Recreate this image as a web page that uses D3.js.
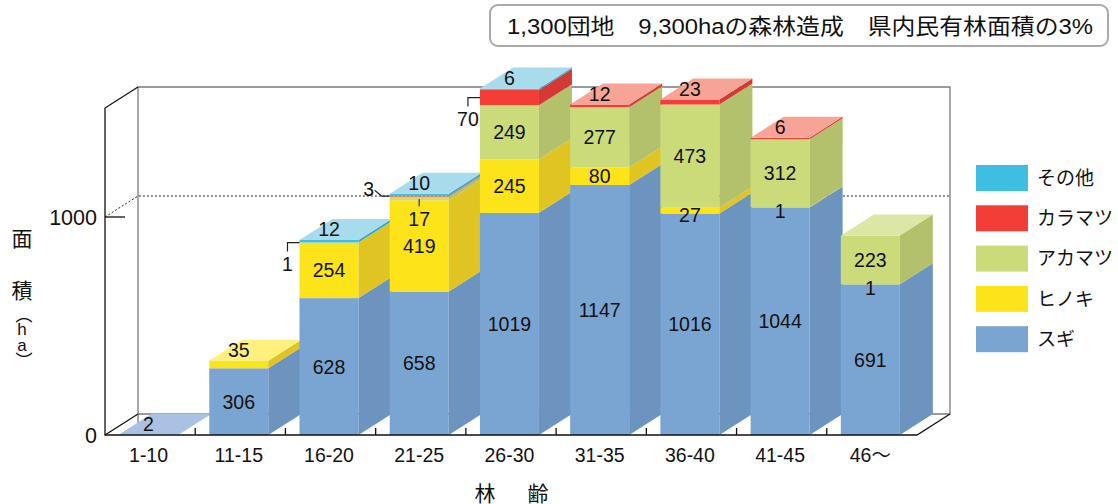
<!DOCTYPE html>
<html>
<head>
<meta charset="utf-8">
<script src="https://cdn.jsdelivr.net/npm/d3@7"></script>
<style>
  body { margin: 0; background: #fff; }
  text { font-family: "Liberation Sans", Arial, "Noto Sans CJK JP", sans-serif; fill: #111; }
</style>
</head>
<body>
<script>
// 林齢別の造成面積 (ha)
var ageClasses = ["1-10", "11-15", "16-20", "21-25", "26-30", "31-35", "36-40", "41-45", "46〜"];
var seriesNames = ["スギ", "ヒノキ", "アカマツ", "カラマツ", "その他"];

var sugi      = [2, 306, 628, 658, 1019, 1147, 1016, 1044, 691];
var hinoki    = [0, 35, 254, 419, 245, 80, 27, 1, 1];
var akamatsu  = [0, 0, 1, 17, 249, 277, 473, 312, 223];
var karamatsu = [0, 0, 0, 3, 70, 12, 23, 6, 0];
var sonota    = [0, 0, 12, 10, 6, 0, 0, 0, 0];

var yTicks = [0, 1000];
var yMax = 1500;
var titleText = "1,300団地\u30009,300haの森林造成\u3000県内民有林面積の3%";

// labels drawn beside the bar with a leader line
var leaderLabels = [
  {age: "16-20", series: "アカマツ", kind: "left"},
  {age: "26-30", series: "カラマツ", kind: "left"},
  {age: "21-25", series: "カラマツ", kind: "diag"},
  {age: "21-25", series: "アカマツ", kind: "below"}
];

var colors = {
  "スギ":     {front: "#7aa5d2", side: "#6d94bf", top: "#abc1e3"},
  "ヒノキ":   {front: "#fde31a", side: "#e0c522", top: "#fdf07c"},
  "アカマツ": {front: "#cbdb7a", side: "#b3c16c", top: "#dce7a6"},
  "カラマツ": {front: "#f33d37", side: "#d33a36", top: "#f7a396"},
  "その他":   {front: "#3ebee1", side: "#35a8c8", top: "#a8dcec"}
};

var table = ageClasses.map(function(a, i) {
  return {age: a, "スギ": sugi[i], "ヒノキ": hinoki[i], "アカマツ": akamatsu[i], "カラマツ": karamatsu[i], "その他": sonota[i]};
});

var svg = d3.select("body").append("svg")
    .attr("width", 1118)
    .attr("height", 504);

var x = d3.scaleBand()
    .domain(ageClasses)
    .range([105, 917])
    .paddingInner(0.346)
    .paddingOuter(0.173)
    .align(0.45);

var y = d3.scaleLinear()
    .domain([0, yMax])
    .range([435, 108]);

var dx = 33, dy = 21;
var x0 = x.range()[0], x1 = x.range()[1];
var yTop = y(yMax), yBase = y(0);

// back wall
var frame = svg.append("g").attr("fill", "none");
frame.append("path")
    .attr("d", "M" + (x0 + dx) + "," + yBase + "V" + (yTop - dy) + "H" + (x1 + dx) + "V" + (yBase - dy) + "H" + (x0 + dx))
    .attr("stroke", "#7a7a7a")
    .attr("stroke-width", 1.3);

// dotted grid at 1000
svg.append("path")
    .attr("d", "M" + x0 + "," + y(1000) + "L" + (x0 + dx) + "," + (y(1000) - dy) + "H" + (x1 + dx))
    .attr("fill", "none")
    .attr("stroke", "#222")
    .attr("stroke-width", 1)
    .attr("stroke-dasharray", "2,2");

// bars
var stack = d3.stack().keys(seriesNames);
var layers = stack(table);
var bw = x.bandwidth();

var bars = svg.append("g");
table.forEach(function(row, i) {
  var bx = x(row.age);
  var g = bars.append("g");
  var lastKey = null, lastTop = 0;
  layers.forEach(function(layer) {
    var d = layer[i];
    if (d[1] - d[0] <= 0) return;
    var c = colors[layer.key];
    var yb = y(d[0]), yt = y(d[1]);
    g.append("rect")
        .attr("x", bx).attr("y", yt)
        .attr("width", bw).attr("height", Math.max(0, yb - yt))
        .attr("fill", c.front);
    g.append("path")
        .attr("d", "M" + (bx + bw) + "," + yb + "L" + (bx + bw) + "," + yt + "L" + (bx + bw + dx) + "," + (yt - dy) + "L" + (bx + bw + dx) + "," + (yb - dy) + "Z")
        .attr("fill", c.side);
    lastKey = layer.key; lastTop = yt;
  });
  if (lastKey) {
    g.append("path")
        .attr("d", "M" + bx + "," + lastTop + "H" + (bx + bw) + "L" + (bx + bw + dx) + "," + (lastTop - dy) + "H" + (bx + dx) + "Z")
        .attr("fill", colors[lastKey].top);
  }
});

// value labels
var labels = svg.append("g").attr("font-size", 19.5).attr("text-anchor", "middle");
var leaders = svg.append("g").attr("fill", "none").attr("stroke", "#222").attr("stroke-width", 1.2);
table.forEach(function(row, i) {
  var bx = x(row.age), cx = bx + bw / 2;
  var keys = seriesNames.filter(function(k) { return row[k] > 0; });
  var lastKey = keys[keys.length - 1];
  layers.forEach(function(layer) {
    var d = layer[i], v = d[1] - d[0];
    if (v <= 0) return;
    var yb = y(d[0]), yt = y(d[1]), mid = (yb + yt) / 2, h = yb - yt;
    var ld = leaderLabels.find(function(l) { return l.age === row.age && l.series === layer.key; });
    var tx = cx, ty = mid;
    if (ld && ld.kind === "left") {
      leaders.append("path").attr("d", "M" + bx + "," + mid + "H" + (bx - 12) + "V" + (mid + 9));
      tx = bx - 12; ty = mid + 21;
    } else if (ld && ld.kind === "diag") {
      leaders.append("path").attr("d", "M" + bx + "," + mid + "H" + (bx - 8) + "L" + (bx - 15) + "," + (mid - 6));
      tx = bx - 21; ty = mid - 7;
    } else if (ld && ld.kind === "below") {
      leaders.append("path").attr("d", "M" + cx + "," + (mid + 1) + "V" + (mid + 8));
      ty = mid + 21;
    } else if (layer.key === lastKey && h < 14) {
      ty = yt - 11;
    } else if (h < 14) {
      ty = mid + 4;
    }
    labels.append("text")
        .attr("x", tx).attr("y", ty)
        .attr("dy", "0.36em")
        .text(v);
  });
});

// floor / front frame
var front = svg.append("g").attr("fill", "none").attr("stroke", "#111").attr("stroke-width", 1.3);
front.append("path")
    .attr("d", "M" + (x0 + dx) + "," + (yTop - dy) + "L" + x0 + "," + yTop + "V" + yBase + "H" + x1 + "L" + (x1 + dx) + "," + (yBase - dy));
front.append("path")
    .attr("d", "M" + x0 + "," + yBase + "L" + (x0 + dx) + "," + (yBase - dy));

// category boundary ticks
var step = x.step();
d3.range(1, ageClasses.length).forEach(function(k) {
  front.append("line")
      .attr("x1", x0 + k * step).attr("x2", x0 + k * step)
      .attr("y1", yBase - 7).attr("y2", yBase);
});

// y ticks
yTicks.forEach(function(t) {
  if (t > 0) {
    front.append("line").attr("x1", x0).attr("x2", x0 + 20).attr("y1", y(t)).attr("y2", y(t));
  }
  svg.append("text")
      .attr("x", x0 - 8).attr("y", y(t))
      .attr("dy", "0.36em")
      .attr("text-anchor", "end")
      .attr("font-size", 21.5)
      .text(t);
});

// x labels
svg.append("g").selectAll("text")
    .data(ageClasses)
    .enter().append("text")
      .attr("x", function(d) { return x(d) + bw / 2; })
      .attr("y", 462)
      .attr("text-anchor", "middle")
      .attr("font-size", 19.5)
      .text(function(d) { return d; });

// axis titles
svg.append("text").attr("x", 485).attr("y", 501).attr("text-anchor", "middle").attr("font-size", 21).text("林");
svg.append("text").attr("x", 538).attr("y", 501).attr("text-anchor", "middle").attr("font-size", 21).text("齢");

var yl = svg.append("g").attr("text-anchor", "middle");
yl.append("text").attr("x", 22).attr("y", 246).attr("font-size", 21).text("面");
yl.append("text").attr("x", 22).attr("y", 298).attr("font-size", 21).text("積");
yl.append("text")
    .attr("x", 22).attr("y", 306)
    .attr("text-anchor", "start")
    .attr("font-size", 17)
    .style("writing-mode", "vertical-rl")
    .style("text-orientation", "upright")
    .style("letter-spacing", "-3px")
    .text("（ha）");

// legend
var legendOrder = seriesNames.slice().reverse();
var legend = svg.append("g").selectAll("g")
    .data(legendOrder)
    .enter().append("g")
      .attr("transform", function(d, i) { return "translate(976," + (165 + i * 40.3) + ")"; });
legend.append("rect")
    .attr("width", 52).attr("height", 26)
    .attr("fill", function(d) { return colors[d].front; });
legend.append("text")
    .attr("x", 61).attr("y", 13)
    .attr("dy", "0.36em")
    .attr("font-size", 19)
    .text(function(d) { return d; });

// title box
svg.append("rect")
    .attr("x", 490).attr("y", 5)
    .attr("width", 618).attr("height", 41)
    .attr("rx", 8)
    .attr("fill", "#fff")
    .attr("stroke", "#a9a9a9")
    .attr("stroke-width", 2);
svg.append("text")
    .attr("x", 507).attr("y", 26)
    .attr("dy", "0.36em")
    .attr("font-size", 22)
    .attr("textLength", 586)
    .attr("lengthAdjust", "spacingAndGlyphs")
    .text(titleText);
</script>
</body>
</html>
